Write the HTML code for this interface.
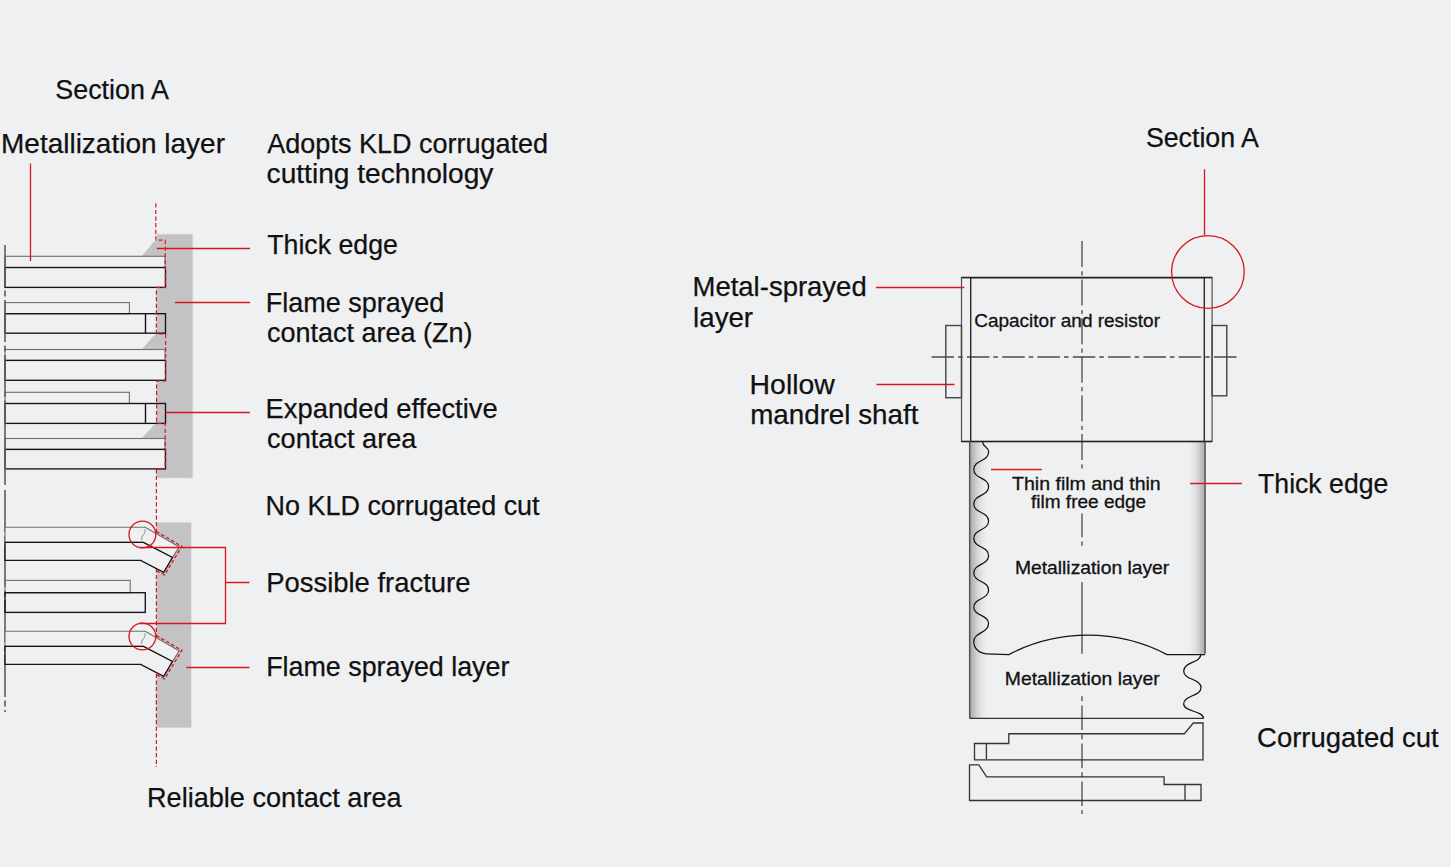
<!DOCTYPE html>
<html><head><meta charset="utf-8"><style>
html,body{margin:0;padding:0;background:#eff0f2;}
svg{display:block;}
text{font-family:"Liberation Sans",sans-serif;fill:#111;}
</style></head><body>
<svg width="1451" height="867" viewBox="0 0 1451 867">
<rect width="1451" height="867" fill="#eff0f2"/>
<path d="M156.8,234.2 H192.7 V478 H156.6 V469.3 H165.2 V423.4 H156.6 V381 H165.6 V334 H156.4 V287.4 H165.3 V240.2 H156.8 Z" fill="#c3c3c5"/>
<path d="M156.8,234.2 H192.7 V478 H156.6" fill="none" stroke="#d6d6d8" stroke-width="1" stroke-dasharray="3 2"/>
<path d="M141.7,256.3 L153.5,242.2 L156.6,240.2 H165.3 V256.3 Z" fill="#c3c3c5"/>
<path d="M141.7,349.5 L153.5,336 L156.6,334 H165.6 V349.5 Z" fill="#c3c3c5"/>
<path d="M141.7,438.5 L153.5,425.4 L156.6,423.4 H165.2 V438.5 Z" fill="#c3c3c5"/>
<rect x="5" y="256.3" width="160" height="11.2" fill="none" stroke="#6e6e6e" stroke-width="1.1"/>
<rect x="5" y="267.5" width="160.5" height="19.9" fill="none" stroke="#141414" stroke-width="1.35"/>
<rect x="5" y="302.6" width="124.4" height="11.1" fill="none" stroke="#6e6e6e" stroke-width="1.1"/>
<rect x="5" y="313.7" width="160.5" height="19.5" fill="none" stroke="#141414" stroke-width="1.35"/>
<path d="M145.5,313.7 V333.2" stroke="#141414" stroke-width="1.4"/>
<rect x="5" y="349.5" width="160" height="10.9" fill="none" stroke="#6e6e6e" stroke-width="1.1"/>
<rect x="5" y="360.4" width="160.5" height="19.9" fill="none" stroke="#141414" stroke-width="1.35"/>
<rect x="5" y="392.3" width="124.4" height="11.2" fill="none" stroke="#6e6e6e" stroke-width="1.1"/>
<rect x="5" y="403.5" width="160.5" height="19.9" fill="none" stroke="#141414" stroke-width="1.35"/>
<path d="M145.5,403.5 V423.4" stroke="#141414" stroke-width="1.4"/>
<rect x="5" y="438.5" width="160" height="10.9" fill="none" stroke="#6e6e6e" stroke-width="1.1"/>
<rect x="5" y="449.4" width="160.5" height="19.5" fill="none" stroke="#141414" stroke-width="1.35"/>
<path d="M5,245 V485 M5,490 V712" stroke="#5c5c5c" stroke-width="1.6" stroke-dasharray="42 3.5 6 3.5"/>
<rect x="156.5" y="522.5" width="34.8" height="205.1" fill="#c3c3c5"/>
<path d="M156.4,469.3 V767" fill="none" stroke="#d9161c" stroke-width="1.2" stroke-dasharray="4.2 2.4"/>
<g transform="translate(0,0)">
<path d="M5,527.3 H145.2 L179.3,546.9 L172.4,557.5 L143.4,542.3 H5 Z" fill="#eff0f2" stroke="#6e6e6e" stroke-width="1.1" stroke-linejoin="miter"/>
<path d="M5,542.3 H143.4 L172.4,557.5 L163.7,572.3 L140.6,560.3 H5 Z" fill="#eff0f2" stroke="#141414" stroke-width="1.35"/>
<path d="M156.3,531.6 L181.9,546.3 L164.6,574.8 L156.3,570.6" fill="none" stroke="#d9161c" stroke-width="1.3" stroke-dasharray="3.5 2.2"/>
<path d="M145,529.4 C145.4,531.8 144.6,533.4 143.4,534.8 C142,536.3 141.3,537.6 141.7,540" fill="none" stroke="#888" stroke-width="1"/>
</g>
<circle cx="142.4" cy="534.5" r="13.4" fill="none" stroke="#d9161c" stroke-width="1.3"/>
<g transform="translate(0,104)">
<path d="M5,527.3 H145.2 L179.3,546.9 L172.4,557.5 L143.4,542.3 H5 Z" fill="#eff0f2" stroke="#6e6e6e" stroke-width="1.1" stroke-linejoin="miter"/>
<path d="M5,542.3 H143.4 L172.4,557.5 L163.7,572.3 L140.6,560.3 H5 Z" fill="#eff0f2" stroke="#141414" stroke-width="1.35"/>
<path d="M156.3,531.6 L181.9,546.3 L164.6,574.8 L156.3,570.6" fill="none" stroke="#d9161c" stroke-width="1.3" stroke-dasharray="3.5 2.2"/>
<path d="M145,529.4 C145.4,531.8 144.6,533.4 143.4,534.8 C142,536.3 141.3,537.6 141.7,540" fill="none" stroke="#888" stroke-width="1"/>
</g>
<circle cx="142.4" cy="636.5" r="13.4" fill="none" stroke="#d9161c" stroke-width="1.3"/>
<rect x="5" y="580.4" width="125.2" height="12.3" fill="none" stroke="#6e6e6e" stroke-width="1.1"/>
<rect x="5" y="592.7" width="140.3" height="19.7" fill="none" stroke="#141414" stroke-width="1.35"/>
<path d="M155.8,203.3 V240.2 H165.3 V287.4 H156.4 V334 H165.6 V381 H156.6 V423.4 H165.2 V469.3 H156.4" fill="none" stroke="#d9161c" stroke-width="1.2" stroke-dasharray="4.2 2.4"/>
<path d="M30.5,163.4 V261 M156.8,248.5 H250 M175,302.5 H250 M165.5,412.5 H250 M139.7,547.5 H225.5 V623.5 H139.6 M225.5,582.5 H249.5 M186.5,667.5 H249.5" fill="none" stroke="#d9161c" stroke-width="1.3"/>
<defs>
<linearGradient id="gl" x1="0" x2="1" y1="0" y2="0"><stop offset="0" stop-color="#a9a9ab"/><stop offset="0.35" stop-color="#d2d2d4"/><stop offset="1" stop-color="#eff0f2" stop-opacity="0"/></linearGradient>
<linearGradient id="gr" x1="0" x2="1" y1="0" y2="0"><stop offset="0" stop-color="#eff0f2" stop-opacity="0"/><stop offset="0.65" stop-color="#d2d2d4"/><stop offset="1" stop-color="#a9a9ab"/></linearGradient>
</defs>
<rect x="970" y="442" width="20" height="276" fill="url(#gl)"/>
<rect x="1186" y="442" width="19" height="211.5" fill="url(#gr)"/>
<path d="M1082,241 V582" stroke="#4a4a4a" stroke-width="1.3" stroke-dasharray="26 4.3 4.2 4.1"/>
<path d="M1082,582 V653.5" stroke="#4a4a4a" stroke-width="1.3"/>
<path d="M1082,653.5 V814" stroke="#4a4a4a" stroke-width="1.3" stroke-dasharray="24.5 4.2 5 4.3" stroke-dashoffset="24"/>
<path d="M931.6,357 H1237" stroke="#4a4a4a" stroke-width="1.3" stroke-dasharray="22.5 4 4.5 4.3"/>
<rect x="1070" y="471" width="24" height="42.5" fill="#eff0f2"/>
<rect x="1070" y="548" width="24" height="34" fill="#eff0f2"/>
<rect x="1070" y="653.8" width="24" height="41.200000000000045" fill="#eff0f2"/>
<rect x="961.5" y="277.6" width="250.6" height="163.9" fill="none" stroke="#505050" stroke-width="1.2"/>
<path d="M970.7,441.5 V277.6 H1204.3 V441.5" fill="none" stroke="#2a2a2a" stroke-width="1.4"/>
<path d="M961.5,277.6 H1212.1 M961.5,441.5 H1212.1" fill="none" stroke="#222" stroke-width="1.5"/>
<rect x="945.8" y="325.5" width="15.7" height="72.2" fill="none" stroke="#444" stroke-width="1.4"/>
<rect x="1212.1" y="325.5" width="14.7" height="70.3" fill="none" stroke="#444" stroke-width="1.4"/>
<path d="M969.7,441.5 V718.4" fill="none" stroke="#555" stroke-width="1.5"/><path d="M969.7,718.4 H1203.5" fill="none" stroke="#333" stroke-width="1.3"/>
<path d="M1205.1,441.5 V653.8" fill="none" stroke="#444" stroke-width="1.3"/>
<path d="M982.5,441.5 C982.5,447.3 988.6,446.2 988.6,452 C988.6,461.6 973.8,459.9 973.8,469.5 C973.8,479.0 988.6,477.2 988.6,486.7 C988.6,496.2 973.8,494.5 973.8,504 C973.8,513.4 988.6,511.6 988.6,521 C988.6,530.6 973.8,528.8 973.8,538.4 C973.8,547.9 988.6,546.2 988.6,555.7 C988.6,565.2 973.8,563.5 973.8,573 C973.8,582.4 988.6,580.6 988.6,590 C988.6,599.6 973.8,597.8 973.8,607.4 C973.8,616.1 988.6,614.6 988.6,623.3 C988.6,633.6 973.8,631.7 973.8,642 C973.8,648 979,653.5 986.5,653.8 L1008.8,654.6 A171.3,171.3 0 0 1 1167,654.6 H1205.1" fill="none" stroke="#151515" stroke-width="1.25"/>
<path d="M1201,653.8 C1201,663.3 1183.7,661.5 1183.7,671 C1183.7,680.1 1201,678.5 1201,687.6 C1201,696.6 1183.7,695.0 1183.7,704 C1183.7,712.0 1203.5,710.5 1203.5,718.5" fill="none" stroke="#151515" stroke-width="1.25"/>
<path d="M974.5,743.5 H1008.8 V733.75 H1184.4 L1193.3,723 H1203 V759.8 H974.5 Z M986.4,743.5 V759" fill="none" stroke="#333" stroke-width="1.3"/>
<path d="M969.5,764.8 H978.8 L986.7,776.8 H1164.1 V784.5 H1201 V800.5 H969.5 Z M1185,784.5 V800.5" fill="none" stroke="#333" stroke-width="1.3"/>
<circle cx="1207.9" cy="272" r="36.3" fill="none" stroke="#d9161c" stroke-width="1.3"/>
<path d="M1204.5,169.3 V235.5 M876,287.5 H964.3 M876.5,384.5 H954.5 M991,469.5 H1041.7 M1190,483.5 H1242" fill="none" stroke="#d9161c" stroke-width="1.3"/>
<text id="t1" x="55.30" y="98.90" font-size="27.5" stroke="#111" stroke-width="0.25" textLength="113.60" lengthAdjust="spacingAndGlyphs">Section A</text>
<text id="t2" x="1.00" y="152.70" font-size="27.5" stroke="#111" stroke-width="0.25" textLength="224.00" lengthAdjust="spacingAndGlyphs">Metallization layer</text>
<text id="t3" x="267.30" y="152.70" font-size="27.5" stroke="#111" stroke-width="0.25" textLength="280.80" lengthAdjust="spacingAndGlyphs">Adopts KLD corrugated</text>
<text id="t4" x="266.60" y="182.60" font-size="27.5" stroke="#111" stroke-width="0.25" textLength="226.80" lengthAdjust="spacingAndGlyphs">cutting technology</text>
<text id="t5" x="267.20" y="253.70" font-size="27.5" stroke="#111" stroke-width="0.25" textLength="130.80" lengthAdjust="spacingAndGlyphs">Thick edge</text>
<text id="t6" x="265.70" y="311.90" font-size="27.5" stroke="#111" stroke-width="0.25" textLength="178.60" lengthAdjust="spacingAndGlyphs">Flame sprayed</text>
<text id="t7" x="267.00" y="341.50" font-size="27.5" stroke="#111" stroke-width="0.25" textLength="205.60" lengthAdjust="spacingAndGlyphs">contact area (Zn)</text>
<text id="t8" x="265.60" y="418.40" font-size="27.5" stroke="#111" stroke-width="0.25" textLength="232.00" lengthAdjust="spacingAndGlyphs">Expanded effective</text>
<text id="t9" x="267.00" y="448.10" font-size="27.5" stroke="#111" stroke-width="0.25" textLength="149.40" lengthAdjust="spacingAndGlyphs">contact area</text>
<text id="t10" x="265.60" y="514.60" font-size="27.5" stroke="#111" stroke-width="0.25" textLength="274.00" lengthAdjust="spacingAndGlyphs">No KLD corrugated cut</text>
<text id="t11" x="266.20" y="591.50" font-size="27.5" stroke="#111" stroke-width="0.25" textLength="204.20" lengthAdjust="spacingAndGlyphs">Possible fracture</text>
<text id="t12" x="266.20" y="676.40" font-size="27.5" stroke="#111" stroke-width="0.25" textLength="243.20" lengthAdjust="spacingAndGlyphs">Flame sprayed layer</text>
<text id="t13" x="147.00" y="806.50" font-size="27.5" stroke="#111" stroke-width="0.25" textLength="254.60" lengthAdjust="spacingAndGlyphs">Reliable contact area</text>
<text id="t14" x="1145.90" y="147.00" font-size="27.5" stroke="#111" stroke-width="0.25" textLength="113.00" lengthAdjust="spacingAndGlyphs">Section A</text>
<text id="t15" x="692.50" y="296.30" font-size="27.5" stroke="#111" stroke-width="0.25" textLength="174.20" lengthAdjust="spacingAndGlyphs">Metal-sprayed</text>
<text id="t16" x="693.10" y="326.50" font-size="27.5" stroke="#111" stroke-width="0.25" textLength="60.00" lengthAdjust="spacingAndGlyphs">layer</text>
<text id="t17" x="749.60" y="393.90" font-size="27.5" stroke="#111" stroke-width="0.25" textLength="85.20" lengthAdjust="spacingAndGlyphs">Hollow</text>
<text id="t18" x="750.20" y="423.70" font-size="27.5" stroke="#111" stroke-width="0.25" textLength="168.20" lengthAdjust="spacingAndGlyphs">mandrel shaft</text>
<text id="t19" x="1258.10" y="493.20" font-size="27.5" stroke="#111" stroke-width="0.25" textLength="130.20" lengthAdjust="spacingAndGlyphs">Thick edge</text>
<text id="t20" x="1257.10" y="747.30" font-size="27.5" stroke="#111" stroke-width="0.25" textLength="181.60" lengthAdjust="spacingAndGlyphs">Corrugated cut</text>
<text id="t21" x="974.20" y="327.40" font-size="18.6" stroke="#111" stroke-width="0.3" textLength="185.80" lengthAdjust="spacingAndGlyphs">Capacitor and resistor</text>
<text id="t22" x="1012.10" y="489.60" font-size="18.6" stroke="#111" stroke-width="0.3" textLength="148.60" lengthAdjust="spacingAndGlyphs">Thin film and thin</text>
<text id="t23" x="1031.00" y="507.60" font-size="18.6" stroke="#111" stroke-width="0.3" textLength="115.20" lengthAdjust="spacingAndGlyphs">film free edge</text>
<text id="t24" x="1014.90" y="574.10" font-size="18.6" stroke="#111" stroke-width="0.3" textLength="154.40" lengthAdjust="spacingAndGlyphs">Metallization layer</text>
<text id="t25" x="1004.80" y="684.90" font-size="18.6" stroke="#111" stroke-width="0.3" textLength="154.80" lengthAdjust="spacingAndGlyphs">Metallization layer</text>
</svg></body></html>
